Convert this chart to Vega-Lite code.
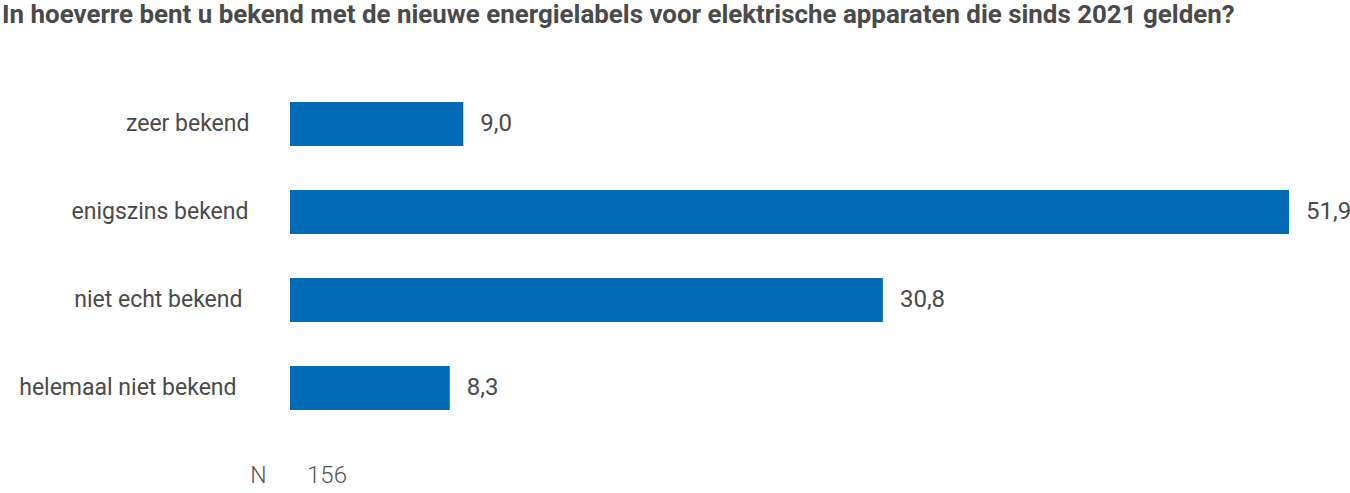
{
  "$schema": "https://vega.github.io/schema/vega-lite/v6.json",
  "width": 1060,
  "height": 413,
  "autosize": {"type": "none"},
  "padding": {"left": 290, "top": 80, "right": 0, "bottom": 0},
  "background": "white",
  "config": {
    "view": {"stroke": null},
    "font": "Roboto",
    "locale": {"number": {"decimal": ",", "thousands": ".", "grouping": [3], "currency": ["€", ""]}}
  },
  "title": {
    "text": "In hoeverre bent u bekend met de nieuwe energielabels voor elektrische apparaten die sinds 2021 gelden?",
    "anchor": "start",
    "frame": "group",
    "dx": -288,
    "dy": -47,
    "fontSize": 25.9,
    "fontWeight": "bold",
    "color": "#4a4a4a",
    "font": "Roboto"
  },
  "datasets": {
    "bars": [
      {"categorie": "zeer bekend", "percentage": 9.0},
      {"categorie": "enigszins bekend", "percentage": 51.9},
      {"categorie": "niet echt bekend", "percentage": 30.8},
      {"categorie": "helemaal niet bekend", "percentage": 8.3}
    ],
    "n": [
      {"categorie": "N", "aantal": 156}
    ]
  },
  "encoding": {
    "y": {
      "field": "categorie",
      "type": "nominal",
      "sort": null,
      "scale": {
        "domain": ["zeer bekend", "enigszins bekend", "niet echt bekend", "helemaal niet bekend", "N"],
        "range": [0, 440],
        "paddingInner": 0.5,
        "paddingOuter": 0.25
      },
      "axis": {
        "title": null,
        "domain": false,
        "ticks": false,
        "labelFont": "Roboto",
        "labelFontSize": 23,
        "labelColor": {"condition": {"test": "datum.value === 'N'", "value": "#555555"}, "value": "#4a4a4a"},
        "labelFontWeight": {"condition": {"test": "datum.value === 'N'", "value": 300}, "value": "normal"},
        "labelLimit": 400,
        "labelPadding": {"expr": "datum.value === 'zeer bekend' ? 41 : datum.value === 'enigszins bekend' ? 42 : datum.value === 'niet echt bekend' ? 48 : datum.value === 'helemaal niet bekend' ? 54 : 24"}
      }
    }
  },
  "layer": [
    {
      "data": {"name": "bars"},
      "mark": {"type": "bar", "color": "#006cb7"},
      "encoding": {
        "x": {
          "field": "percentage",
          "type": "quantitative",
          "scale": {"domain": [0, 55.065], "range": [0, 1060], "nice": false, "zero": true},
          "axis": null
        }
      }
    },
    {
      "data": {"name": "bars"},
      "mark": {"type": "text", "align": "left", "baseline": "middle", "dx": 17, "fontSize": 24, "color": "#4a4a4a", "font": "Roboto"},
      "encoding": {
        "x": {"field": "percentage", "type": "quantitative"},
        "text": {"field": "percentage", "type": "quantitative", "format": ".1f"}
      }
    },
    {
      "data": {"name": "n"},
      "mark": {"type": "text", "align": "left", "baseline": "middle", "dx": 17, "fontSize": 24, "color": "#555555", "font": "Roboto", "fontWeight": 300},
      "encoding": {
        "x": {"datum": 0, "type": "quantitative"},
        "text": {"field": "aantal", "type": "quantitative"}
      }
    }
  ]
}
